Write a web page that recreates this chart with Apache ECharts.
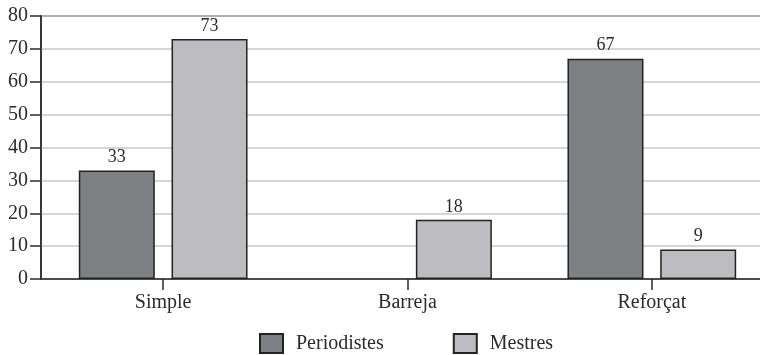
<!DOCTYPE html>
<html>
<head>
<meta charset="utf-8">
<script src="https://cdn.jsdelivr.net/npm/echarts@6/dist/echarts.min.js"></script>
<style>
  html, body { margin: 0; padding: 0; background: #fff; }
  #chart { width: 760px; height: 355px; }
</style>
</head>
<body>
<div id="chart"></div>
<script>
// Categories and values per group
const categories = ['Simple', 'Barreja', 'Reforçat'];
const periodistes = [33, 0, 67];
const mestres = [73, 18, 9];
const seriesNames = ['Periodistes', 'Mestres'];

const FONT = '"Liberation Serif", "DejaVu Serif", serif';
const INK = '#2b2b2b';

const chart = echarts.init(document.getElementById('chart'), null, { renderer: 'canvas' });

function valueLabel(p) {
  return p.value > 0 ? String(p.value) : '';
}

// Zero-height bars carry no outline so nothing shows on the baseline
function barData(values) {
  return values.map(v => v > 0 ? v : { value: v, itemStyle: { borderWidth: 0 } });
}

chart.setOption({
  animation: false,
  backgroundColor: '#fff',
  textStyle: { fontFamily: FONT },
  grid: {
    // plot area runs past the right edge of the canvas
    left: 41, top: 16, width: 733, height: 263,
    outerBoundsMode: 'none',
    containLabel: false,
    show: true, borderColor: INK, borderWidth: 1.5, backgroundColor: 'transparent'
  },
  legend: {
    data: seriesNames,
    icon: 'rect',
    padding: 0,
    left: 259, top: 333,
    itemWidth: 23, itemHeight: 19,
    itemGap: 69,
    textStyle: { fontFamily: FONT, fontSize: 20, color: INK, padding: [0, 0, 0, 8] }
  },
  xAxis: {
    type: 'category',
    data: categories,
    axisLine: { lineStyle: { color: INK, width: 1.5 } },
    axisTick: { show: true, interval: 0, alignWithLabel: true, length: 11,
                lineStyle: { color: INK, width: 1.5 } },
    axisLabel: { fontFamily: FONT, fontSize: 20, color: INK, margin: 14 }
  },
  yAxis: {
    type: 'value',
    min: 0, max: 80, interval: 10,
    axisLine: { show: true, lineStyle: { color: INK, width: 1.5 } },
    axisTick: { show: true, length: 11, lineStyle: { color: INK, width: 1.5 } },
    axisLabel: { fontFamily: FONT, fontSize: 20, color: INK, margin: 13 },
    splitLine: { lineStyle: { color: '#c9c9c9', width: 1.5 } }
  },
  series: [
    {
      name: seriesNames[0],
      type: 'bar',
      data: barData(periodistes),
      barWidth: 76,
      barGap: '22%',
      itemStyle: { color: '#7f8084', borderColor: '#222', borderWidth: 1.5 },
      label: { show: true, position: 'top', distance: 4, formatter: valueLabel,
               fontFamily: FONT, fontSize: 18, color: INK }
    },
    {
      name: seriesNames[1],
      type: 'bar',
      data: barData(mestres),
      barWidth: 76,
      barGap: '22%',
      itemStyle: { color: '#bdbdc1', borderColor: '#222', borderWidth: 1.5 },
      label: { show: true, position: 'top', distance: 4, formatter: valueLabel,
               fontFamily: FONT, fontSize: 18, color: INK }
    }
  ]
});
</script>
</body>
</html>
